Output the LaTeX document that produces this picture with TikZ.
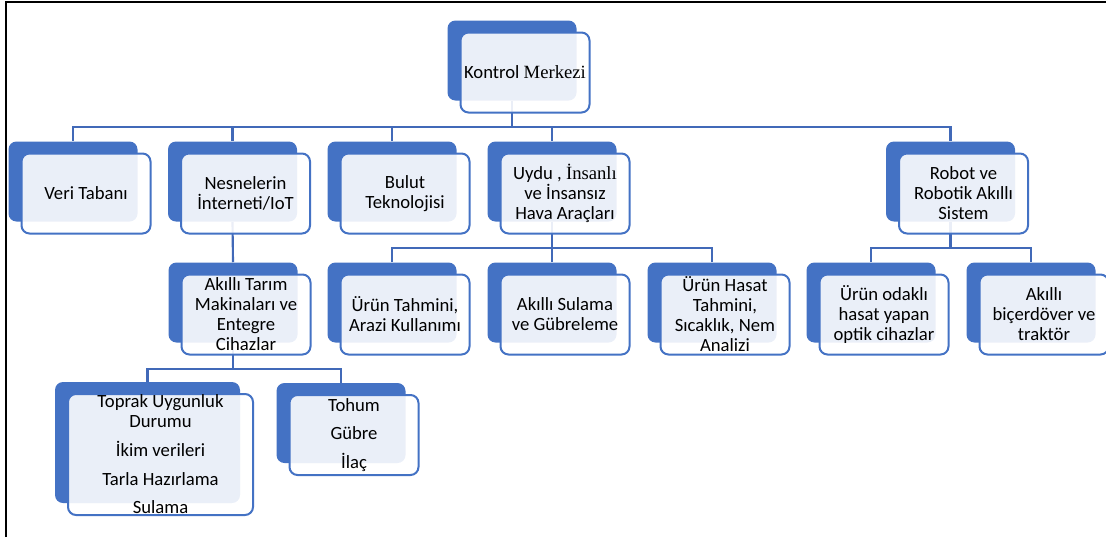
\documentclass[tikz,border=0pt]{standalone}
\usepackage{fontspec}
\setmainfont{Carlito}
\newfontfamily\tnr{Liberation Serif}
\usepackage{xcolor}
\usepackage{tikz}
\usetikzlibrary{positioning, backgrounds}

\definecolor{boxblue}{HTML}{4472C4}
\definecolor{lineblue}{HTML}{4169B8}

\begin{document}
\begin{tikzpicture}[
        x=0.75pt, y=-0.75pt,
        back/.style={
            rectangle,
            fill=boxblue,
            rounded corners=6pt,
            minimum width=96.75pt,
            minimum height=60pt,
            inner sep=0pt
        },
        front/.style={
            rectangle,
            draw=boxblue,
            line width=1.5pt,
            fill=white,
            fill opacity=0.89,
            text opacity=1,
            rounded corners=6pt,
            minimum width=96.75pt,
            minimum height=60pt,
            inner xsep=2pt,
            inner ysep=0pt,
            align=center,
            font=\fontsize{14}{15}\selectfont
        },
        conn/.style={draw=lineblue, line width=1.6pt}
    ]
        \useasboundingbox (0,0) rectangle (1106,537);
        \draw[line width=1.5pt] (6,537) |- (1106,2);

        % Boxes
        \node[back] (kontrolB) at (512,60.5) {};
        \node[front] (kontrol) at ([shift={(13,12)}]kontrolB.center) {Kontrol {\tnr Merkezi}};

        \node[back] (veriB) at (73,181.5) {};
        \node[front] (veri) at ([shift={(13,12)}]veriB.center) {Veri Tabanı};
        \node[back] (nesneB) at (232.5,181.5) {};
        \node[front] (nesne) at ([shift={(13,12)}]nesneB.center) {Nesnelerin\\İnterneti/IoT};
        \node[back] (bulutB) at (392,181.5) {};
        \node[front] (bulut) at ([shift={(13,12)}]bulutB.center) {Bulut\\Teknolojisi};
        \node[back] (uyduB) at (552,181.5) {};
        \node[front] (uydu) at ([shift={(13,12)}]uyduB.center) {Uydu , {\tnr İnsanlı}\\ve İnsansız\\Hava Araçları};
        \node[back] (robotB) at (950.5,181.5) {};
        \node[front] (robot) at ([shift={(13,12)}]robotB.center) {Robot ve\\Robotik Akıllı\\Sistem};

        \node[back] (tarimB) at (233,302.5) {};
        \node[front] (tarim) at ([shift={(13,12)}]tarimB.center) {Akıllı Tarım\\Makinaları ve\\Entegre\\Cihazlar};
        \node[back] (tahminB) at (392,302.5) {};
        \node[front] (tahmin) at ([shift={(13,12)}]tahminB.center) {Ürün Tahmini,\\Arazi Kullanımı};
        \node[back] (sulamaB) at (552,302.5) {};
        \node[front] (sulama) at ([shift={(13,12)}]sulamaB.center) {Akıllı Sulama\\ve Gübreleme};
        \node[back] (hasatB) at (712,302.5) {};
        \node[front] (hasat) at ([shift={(13,12)}]hasatB.center) {Ürün Hasat\\Tahmini,\\Sıcaklık, Nem\\Analizi};
        \node[back] (optikB) at (871,302.5) {};
        \node[front] (optik) at ([shift={(13,12)}]optikB.center) {Ürün odaklı\\hasat yapan\\optik cihazlar};
        \node[back] (traktorB) at (1031,302.5) {};
        \node[front] (traktor) at ([shift={(13,12)}]traktorB.center) {Akıllı\\biçerdöver ve\\traktör};

        \node[back, minimum width=138.75pt, minimum height=90.75pt] (toprakB) at (147.5,442.5) {};
        \node[front, minimum width=138.75pt, minimum height=90.75pt] (toprak) at ([shift={(13,12)}]toprakB.center) {Toprak Uygunluk\\Durumu\\[6.5pt]İkim verileri\\[6.5pt]Tarla Hazırlama\\[6.5pt]Sulama};
        \node[back] (tohumB) at (341,423) {};
        \node[front] (tohum) at ([shift={(13,12)}]tohumB.center) {Tohum\\[6.5pt]Gübre\\[6.5pt]İlaç};

        % Lines
        \begin{scope}[on background layer]
        \draw[conn] (kontrolB.south) -- ++(0,26.5) -| (veriB.north);
        \draw[conn] (kontrolB.south) -- ++(0,26.5) -| (nesneB.north);
        \draw[conn] (kontrolB.south) -- ++(0,26.5) -| (bulutB.north);
        \draw[conn] (kontrolB.south) -- ++(0,26.5) -| (uyduB.north);
        \draw[conn] (kontrolB.south) -- ++(0,26.5) -| (robotB.north);

        \draw[conn] (nesneB.south) -- (tarimB.north);

        \draw[conn] (uyduB.south) -- ++(0,26) -| (tahminB.north);
        \draw[conn] (uyduB.south) -- (sulamaB.north);
        \draw[conn] (uyduB.south) -- ++(0,26) -| (hasatB.north);

        \draw[conn] (robotB.south) -- ++(0,26) -| (optikB.north);
        \draw[conn] (robotB.south) -- ++(0,26) -| (traktorB.north);

        \draw[conn] (tarimB.south) -- ++(0,26) -| (toprakB.north);
        \draw[conn] (tarimB.south) -- ++(0,26) -| (tohumB.north);
        \end{scope}
    \end{tikzpicture}
\end{document}
